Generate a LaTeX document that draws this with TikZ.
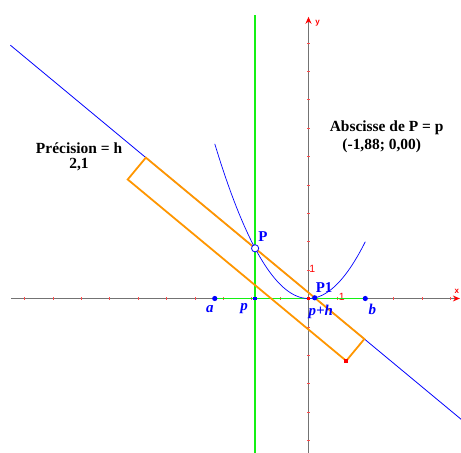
\documentclass[tikz,border=0pt]{standalone}
\usepackage{fontspec}
\setmainfont{Liberation Serif}
\setsansfont{Liberation Sans}
\usetikzlibrary{arrows.meta,positioning,calc}
\definecolor{geoblue}{RGB}{0,0,255}
\definecolor{geogreen}{RGB}{20,240,20}
\definecolor{geoorange}{RGB}{255,150,0}
\definecolor{geored}{RGB}{255,0,0}
\definecolor{axisgray}{RGB}{115,115,115}

\begin{document}
\begin{tikzpicture}[x=1cm,y=1cm,
  axis/.style={draw=axisgray,line width=1.1pt,-{Stealth[geored,length=7pt,width=6pt]}},
  axtick/.style={draw=geored!70,line width=.6pt},
  unitlab/.style={font=\sffamily\fontsize{10.5}{11}\selectfont,text=geored,inner sep=0pt},
  axislab/.style={font=\sffamily\bfseries\fontsize{8}{9}\selectfont,text=geored,inner sep=0pt},
  curve/.style={draw=geoblue,line width=.7pt},
  secant/.style={draw=geoblue,line width=.8pt},
  vline/.style={draw=geogreen,line width=1.6pt},
  frame/.style={draw=geoorange,line width=1.8pt,line join=miter},
  ptlab/.style={font=\fontsize{15}{17}\selectfont\bfseries,text=geoblue,inner sep=0pt},
  varlab/.style={font=\fontsize{15}{17}\selectfont\bfseries\itshape,text=geoblue,inner sep=0pt},
  info/.style={font=\fontsize{15.5}{18}\selectfont\bfseries,align=center,inner sep=0pt}]

\path[use as bounding box] (-10.863,-5.44) rectangle (5.37,10.511);
\clip (-10.863,-5.44) rectangle (5.37,10.511);
\coordinate (O) at (0,0);
\coordinate (A) at (-3.3,0);
\coordinate (B) at (2,0);
\coordinate (Pp) at (-1.88,0);
\coordinate (P) at (-1.88,{0.5*1.88*1.88});
\coordinate (P1) at (0.22,{0.5*0.22*0.22});
\coordinate (R1) at ($(P)!5cm!(P1)$);
\coordinate (R2) at ($(P)!-5cm!(P1)$);
\coordinate (R3) at ($(R1)!1cm!90:(P)$);
\coordinate (R4) at ($(R2)!1cm!-90:(P)$);

\draw[axis] (-10.47,0) -- (5.33,0);
\draw[axis] (0,-5.5) -- (0,9.92);
\foreach \xx in {-10,...,5}
  \draw[axtick] (\xx,-.05) -- (\xx,.05);
\foreach \yy in {-5,...,9}
  \draw[axtick] (-.05,\yy) -- (.05,\yy);
\node[axislab] (xlab) at (5.22,.24) {x};
\node[axislab] (ylab) at (.32,9.71) {y};
\node[unitlab] (onex) at (1.17,.07) {1};
\node[unitlab] (oney) at (.13,1.04) {1};

\draw[vline] (-1.88,-5.5) -- (-1.88,9.98);
\draw[vline] (A) -- (B);
\draw[secant] ($(P)!-11.2cm!(P1)$) -- ($(P)!10cm!(P1)$);
\draw[curve] plot[domain=-3.3:2,samples=80] (\x,{0.5*\x*\x});
\draw[frame] (R1) -- (R2) -- (R4) -- (R3) -- cycle;

\fill[geored] ($(O)+(-1.6pt,-1.6pt)$) rectangle ++(3.2pt,3.2pt);
\fill[geoblue] ($(Pp)+(-1.7pt,-1.7pt)$) rectangle ++(3.4pt,3.4pt);
\fill[geoblue] (A) circle (2.6pt);
\fill[geoblue] (B) circle (2.6pt);
\fill[geoblue] (P1) circle (2.6pt);
\fill[geored] ($(R3)+(-2pt,-2pt)$) rectangle ++(4pt,4pt);
\draw[geoblue,fill=white,line width=.8pt] (P) circle (3.6pt);

\node[ptlab] (lblP) at (-1.6,2.17) {P};
\node[ptlab] (lblPone) at (.55,.37) {P1};
\node[varlab] (lbla) at (-3.47,-.37) {a};
\node[varlab] (lblp) at (-2.27,-.35) {p};
\node[varlab] (lblph) at (.43,-.46) {p+h};
\node[varlab] (lblb) at (2.25,-.37) {b};
\node[info] (prec) at (-8.08,5.28) {Précision = h};
\node[info,below=4pt of prec] (hval) {2,1};
\node[info] (absc) at (2.75,6.0) {Abscisse de P = p};
\node[info,anchor=north] (pval) at ($(absc.south)+(-.17,-.12)$) {(-1,88; 0,00)};

\end{tikzpicture}
\end{document}
